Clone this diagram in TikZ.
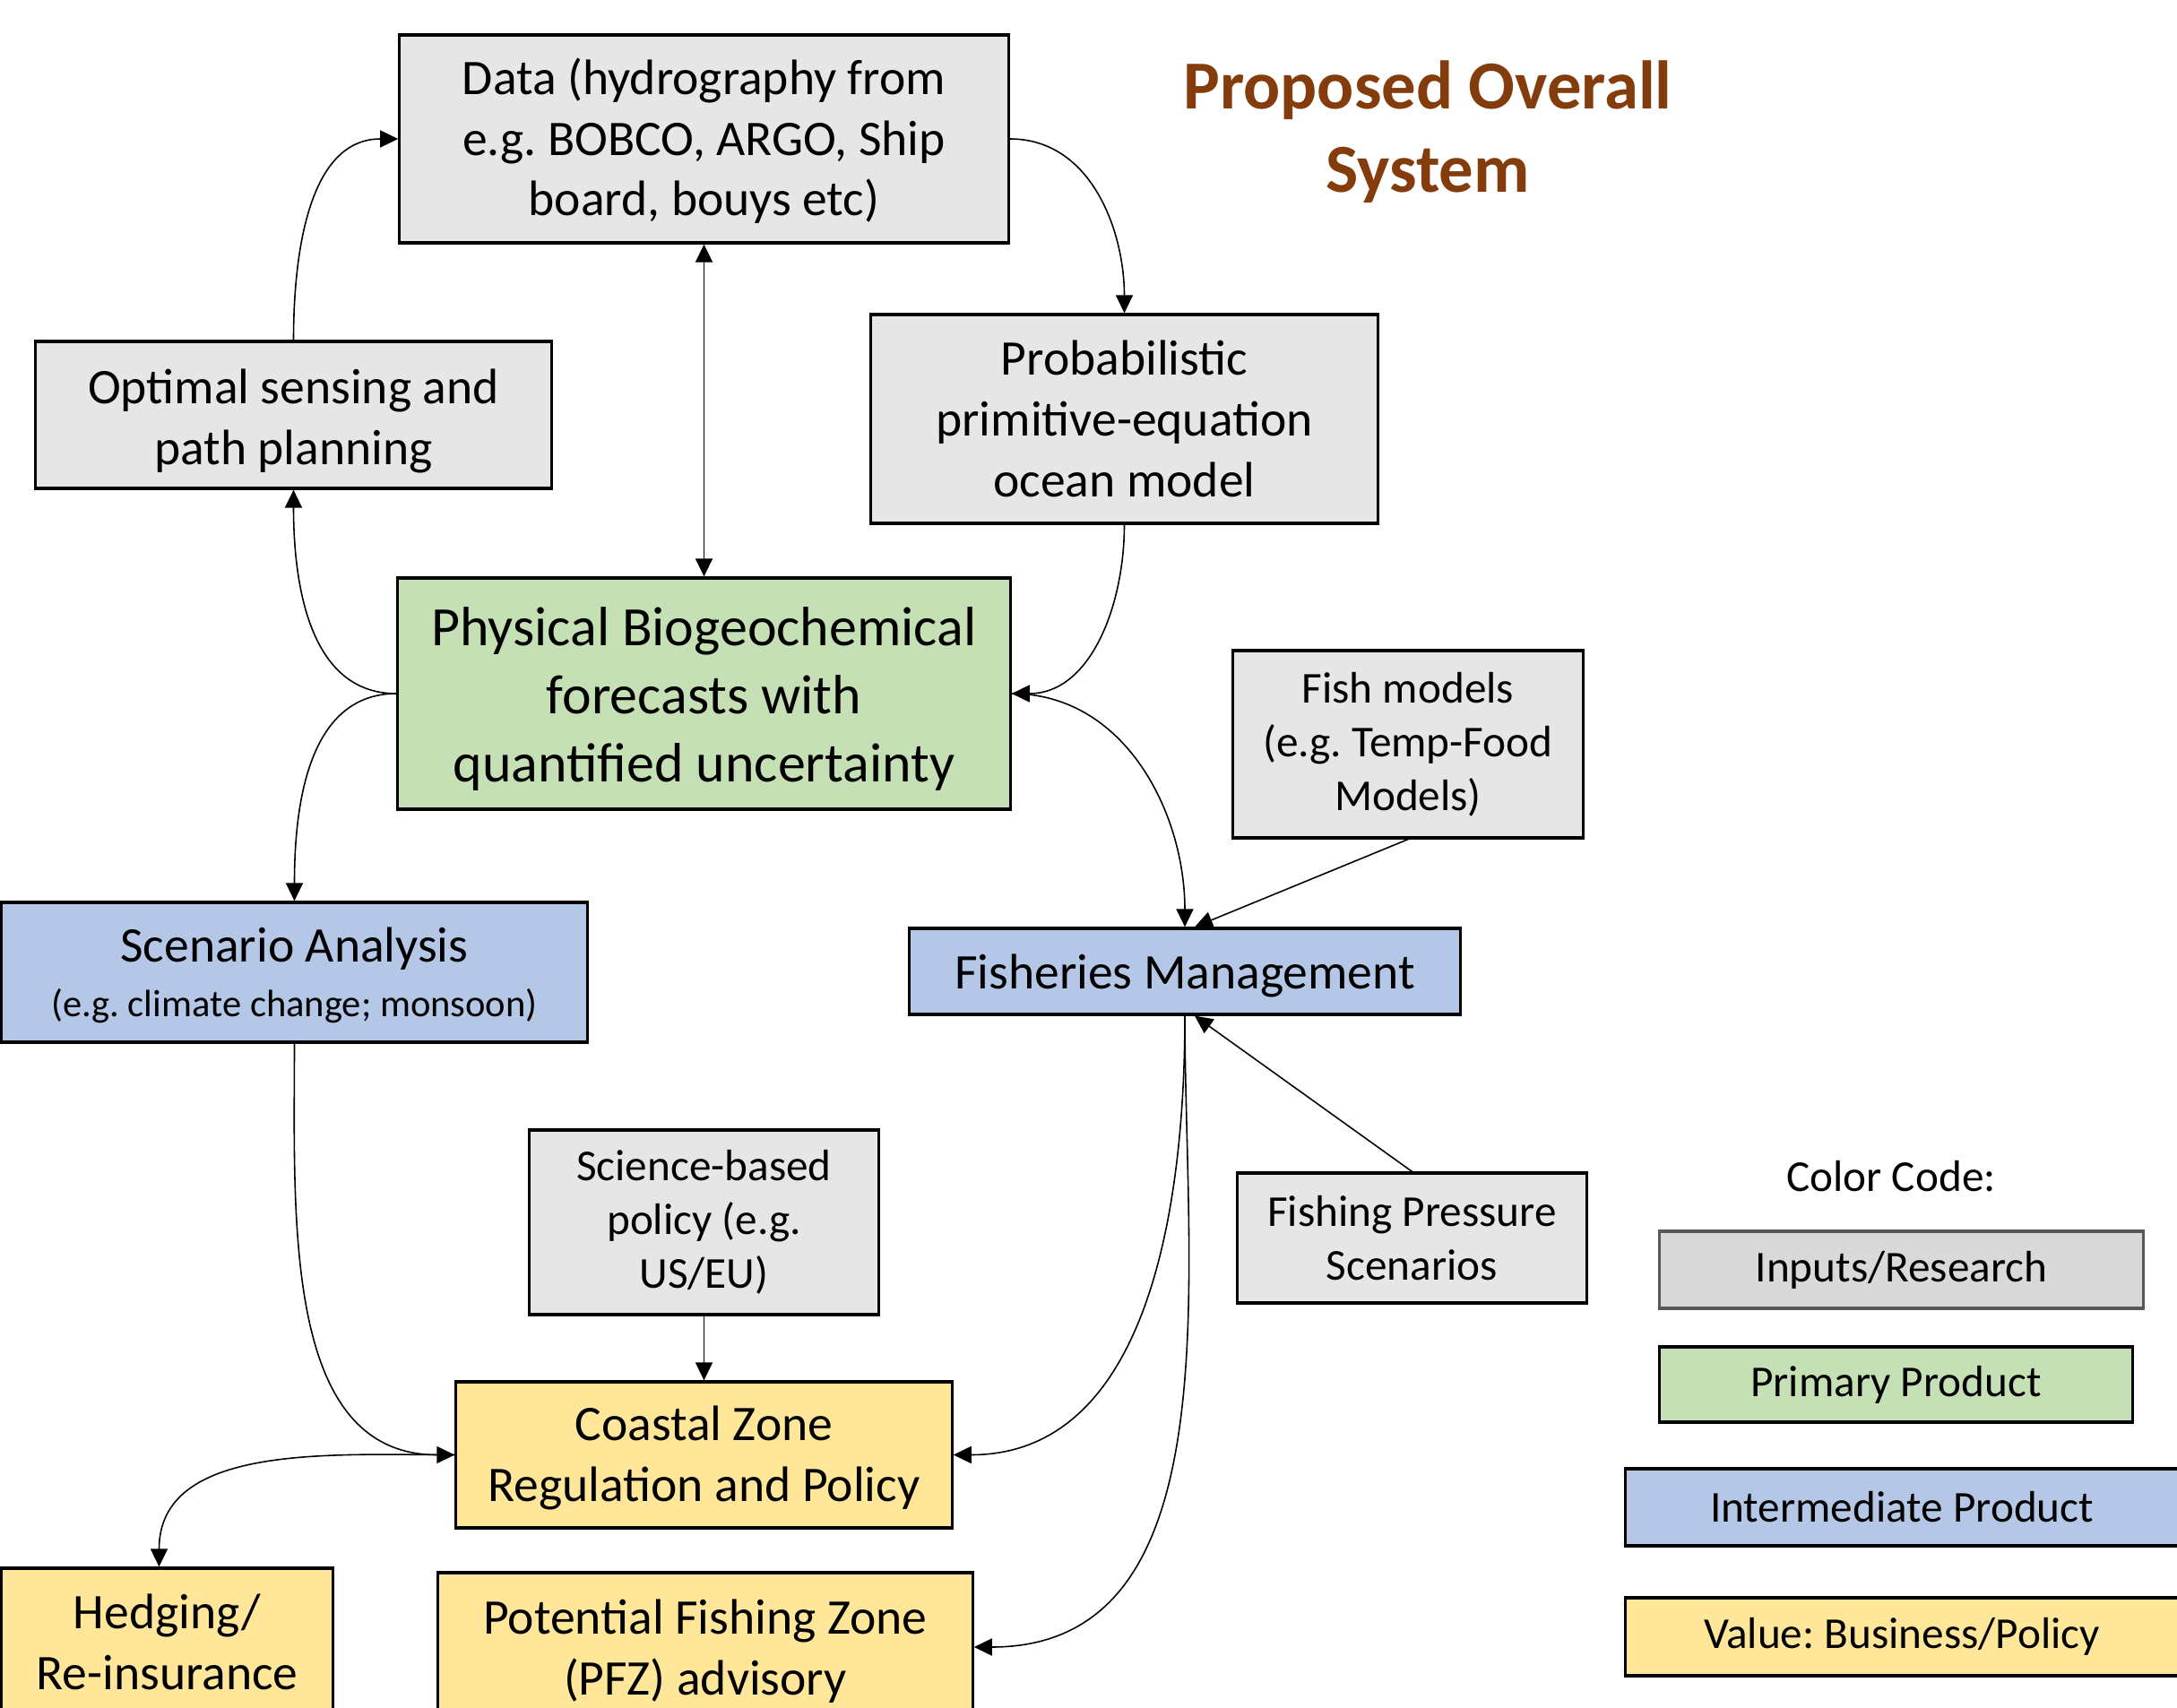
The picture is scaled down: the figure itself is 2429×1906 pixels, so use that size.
\documentclass[tikz,border=0pt]{standalone}
\usepackage{fontspec}
\setmainfont{Carlito}
\usetikzlibrary{arrows.meta}
\definecolor{boxgray}{HTML}{E7E6E6}
\definecolor{leggray}{HTML}{D9D9D9}
\definecolor{legborder}{HTML}{595959}
\definecolor{boxgreen}{HTML}{C5E0B4}
\definecolor{boxblue}{HTML}{B4C7E7}
\definecolor{boxyellow}{HTML}{FFE699}
\definecolor{titlebrown}{HTML}{843C0C}
\newcommand{\fdata}{\fontsize{15.8}{19.3}\selectfont}
\newcommand{\fphys}{\fontsize{17.6}{21.6}\selectfont}
\newcommand{\fsmall}{\fontsize{14.0}{17.1}\selectfont}
\newcommand{\fsubtext}{\fontsize{12.1}{14.8}\selectfont}
\newcommand{\ftitle}{\fontsize{21.8}{26.5}\selectfont\bfseries}
\frenchspacing
\begin{document}
\begin{tikzpicture}[x=0.01cm,y=-0.01cm,
  box/.style={draw=black, line width=0.9pt, inner sep=0pt, align=center},
  graybox/.style={box, fill=boxgray},
  greenbox/.style={box, fill=boxgreen},
  bluebox/.style={box, fill=boxblue},
  yellowbox/.style={box, fill=boxyellow},
  conn/.style={line width=0.45pt, -{Triangle[length=0.2cm,width=0.19cm]}},
  dconn/.style={line width=0.45pt, {Triangle[length=0.2cm,width=0.19cm]}-{Triangle[length=0.2cm,width=0.19cm]}}]
\clip (0,0) rectangle (2429,1906);
\fill[white] (0,0) rectangle (2429,1906);

% title
\node[font=\ftitle, text=titlebrown, align=center] (title) at (1593,147) {Proposed Overall\\System};

% nodes
\node[graybox, minimum width=6.79cm, minimum height=2.32cm, font=\fdata] (data) at (785.5,155) {\rule{0pt}{0.45cm}Data (hydrography from\\e.g. BOBCO, ARGO, Ship\\board, bouys etc)};
\node[graybox, minimum width=5.75cm, minimum height=1.64cm, font=\fdata] (opt) at (327.5,463) {\rule{0pt}{0.52cm}Optimal sensing and\\path planning};
\node[graybox, minimum width=5.65cm, minimum height=2.33cm, font=\fdata] (prob) at (1254.5,467.5) {Probabilistic\\primitive-equation\\ocean model};
\node[greenbox, minimum width=6.83cm, minimum height=2.58cm, font=\fphys] (phys) at (785.5,774) {\rule{0pt}{0.55cm}Physical Biogeochemical\\forecasts with\\quantified uncertainty};
\node[graybox, minimum width=3.90cm, minimum height=2.09cm, font=\fsmall] (fishm) at (1571,830.5) {Fish models\\(e.g. Temp-Food\\Models)};
\node[bluebox, minimum width=6.53cm, minimum height=1.56cm, font=\fdata] (scen) at (328.5,1085) {\rule{0pt}{0.45cm}Scenario Analysis\\[-2pt]{\fsubtext (e.g. climate change; monsoon)}};
\node[bluebox, minimum width=6.14cm, minimum height=0.96cm, font=\fdata] (fish) at (1322,1084) {\rule{0pt}{0.48cm}Fisheries Management};
\node[graybox, minimum width=3.89cm, minimum height=2.06cm, font=\fsmall] (sci) at (785.5,1364) {Science-based\\policy (e.g.\\US/EU)};
\node[graybox, minimum width=3.89cm, minimum height=1.45cm, font=\fsmall] (press) at (1575.5,1381.5) {Fishing Pressure\\Scenarios};
\node[yellowbox, minimum width=5.53cm, minimum height=1.63cm, font=\fdata] (coast) at (785.5,1623.5) {\rule{0pt}{0.45cm}Coastal Zone\\Regulation and Policy};
\node[yellowbox, minimum width=3.70cm, minimum height=1.64cm, font=\fdata] (hedge) at (186.5,1832) {Hedging/\\Re-insurance};
\node[yellowbox, minimum width=5.96cm, minimum height=1.66cm, font=\fdata] (pfz) at (787,1838) {\rule{0pt}{0.48cm}Potential Fishing Zone\\(PFZ) advisory};

% legend
\node[font=\fsmall] (cc) at (2110,1313) {Color Code:};
\node[box, fill=leggray, draw=legborder, minimum width=5.39cm, minimum height=0.86cm, font=\fsmall] (lin) at (2121.5,1417) {Inputs/Research};
\node[greenbox, minimum width=5.27cm, minimum height=0.84cm, font=\fsmall] (lpri) at (2115.5,1545) {Primary Product};
\node[bluebox, minimum width=6.16cm, minimum height=0.86cm, font=\fsmall] (lint) at (2122,1682) {Intermediate Product};
\node[yellowbox, minimum width=6.16cm, minimum height=0.87cm, font=\fsmall] (lval) at (2122,1826.5) {Value: Business/Policy};

% connectors
\draw[conn] (opt.north) to[out=90,in=180] (data.west);
\draw[conn] (data.east) to[out=0,in=90] (prob.north);
\draw[dconn] (data.south) -- (phys.north);
\draw[conn] (prob.south) to[out=-90,in=0] (phys.east);
\draw[conn] (phys.west) to[out=180,in=-90] (opt.south);
\draw[conn] (phys.west) to[out=180,in=90] (scen.north);
\draw[conn] (phys.east) to[out=0,in=90] (fish.north);
\draw[conn] (fishm.south) -- ([xshift=0.11cm]fish.north);
\draw[conn] (press.north) -- ([xshift=0.11cm]fish.south);
\draw[conn] (fish.south) to[out=-90,in=0] (coast.east);
\draw[conn] (fish.south) to[out=-90,in=0] (pfz.east);
\draw[conn] (scen.south) to[out=-90,in=180] (coast.west);
\draw[conn] (sci.south) -- (coast.north);
\draw[conn] (coast.west) to[out=180,in=90] ([xshift=-0.09cm]hedge.north);
\end{tikzpicture}
\end{document}
